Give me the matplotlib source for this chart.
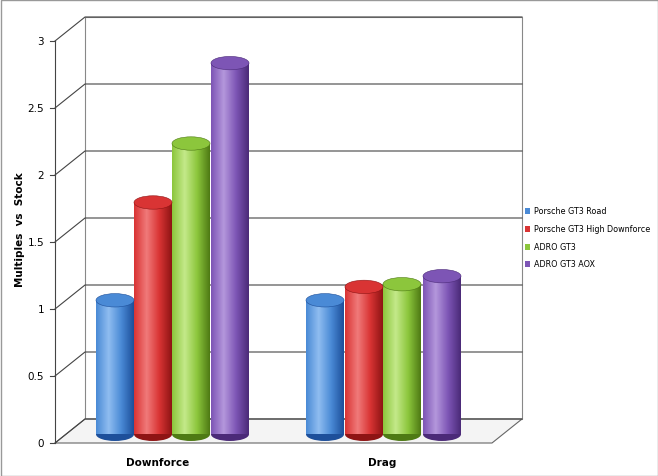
import numpy as np
import matplotlib.pyplot as plt
from matplotlib.patches import Ellipse, Rectangle, Polygon
from matplotlib.colors import LinearSegmentedColormap

categories = ["Downforce", "Drag"]
series = ["Porsche GT3 Road", "Porsche GT3 High Downforce", "ADRO GT3", "ADRO GT3 AOX"]
values = {
    "Porsche GT3 Road": [1.0, 1.0],
    "Porsche GT3 High Downforce": [1.73, 1.1],
    "ADRO GT3": [2.17, 1.12],
    "ADRO GT3 AOX": [2.77, 1.18],
}
yticks = [0, 0.5, 1, 1.5, 2, 2.5, 3]
colors = {
    "Porsche GT3 Road": ("#1d4f9a", "#4a8ad6", "#8fbdf0"),
    "Porsche GT3 High Downforce": ("#8e1414", "#d93434", "#f07a7a"),
    "ADRO GT3": ("#4e7a14", "#8cc63c", "#c4e98a"),
    "ADRO GT3 AOX": ("#4b2a78", "#7d55b5", "#b497dc"),
}

fig = plt.figure(figsize=(6.58, 4.77), dpi=100)
ax = fig.add_axes([0, 0, 1, 1])
S = 134.0
ax.set_xlim(0, 658)
ax.set_ylim((444 - 477) / S, 444 / S)
ax.axis("off")
dx, dy = 30, 24 / S
x0, x1 = 55, 492
ax.add_patch(Polygon([(x0 + dx, dy), (x1 + dx, dy), (x1 + dx, 3 + dy), (x0 + dx, 3 + dy)], fc="white", ec="#888", lw=0.8))
ax.add_patch(Polygon([(x0, 0), (x1, 0), (x1 + dx, dy), (x0 + dx, dy)], fc="#f4f4f4", ec="#666", lw=0.8))
for t in yticks:
    ax.plot([x0, x0 + dx, x1 + dx], [t, t + dy, t + dy], color="#444", lw=0.8)
    ax.plot([x0 - 5, x0], [t, t], color="#444", lw=0.8)
    ax.text(44, t, f"{t:g}", ha="right", va="center", fontsize=7.5)
ax.plot([x0, x0], [0, 3], color="#444", lw=0.8)
ax.text(20, 1.6, "Multiples  vs  Stock", rotation=90, ha="center", va="center", fontsize=7.5, fontweight="bold")

centers = [[115, 153, 191, 230], [325, 364, 402, 442]]
w = 38
base = 0.065
eh = 0.1
for ci, cat in enumerate(categories):
    ax.text(np.mean(centers[ci]) - 15 if ci == 0 else np.mean(centers[ci]) - 1, -0.14, cat, ha="center", va="center", fontsize=7.5, fontweight="bold")
    for si, s in enumerate(series):
        v = values[s][ci]
        c = centers[ci][si]
        dark, mid, light = colors[s]
        cmap = LinearSegmentedColormap.from_list("g", [mid, light, mid, dark])
        grad = np.linspace(0, 1, 100)[None, :]
        im = ax.imshow(grad, cmap=cmap, extent=[c - w / 2, c + w / 2, base, base + v], aspect="auto", zorder=3)
        clip = Rectangle((c - w / 2, base), w, v, transform=ax.transData, fc="none", ec="none")
        ax.add_patch(clip)
        im.set_clip_path(clip)
        ax.add_patch(Ellipse((c, base), w, eh, fc=dark, ec="none", zorder=2.9))
        ax.add_patch(Ellipse((c, base + v), w, eh, fc=mid, ec=dark, lw=0.4, zorder=4))
ax.set_xlim(0, 658)
ax.set_ylim((444 - 477) / S, 444 / S)

ly = [212, 230, 248, 265]
for s, yy in zip(series, ly):
    ax.add_patch(Rectangle((525, (444 - yy) / S - 0.025), 5, 0.05, fc=colors[s][1], ec="none"))
    ax.text(534, (444 - yy) / S, s, fontsize=5.8, va="center")

ax.add_patch(Rectangle((0.5, (444 - 476.5) / S), 657, 476 / S, fill=False, ec="#999", lw=1))
fig.savefig("out.png", dpi=100)
